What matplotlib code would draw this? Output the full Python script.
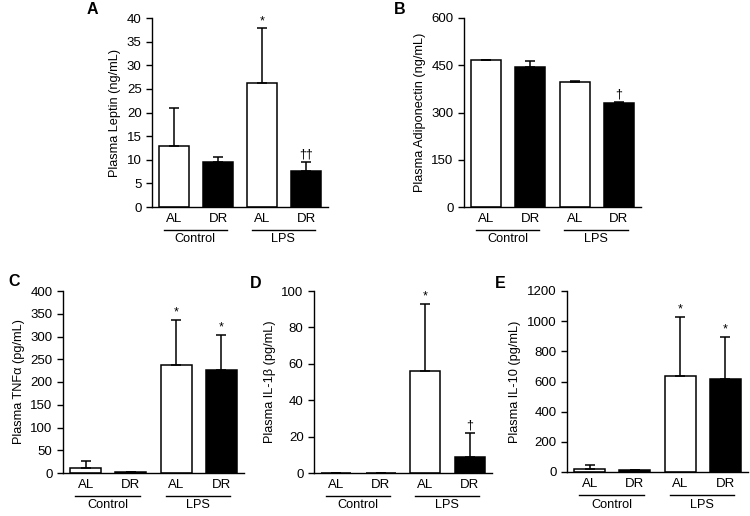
import matplotlib.pyplot as plt
from matplotlib.transforms import ScaledTranslation

plt.rcParams['font.family'] = ['Liberation Sans', 'DejaVu Sans']
plt.rcParams['font.size'] = 9

bar_labels = ['AL', 'DR', 'AL', 'DR']
groups = ['Control', 'LPS']
bar_colors = ['white', 'black', 'white', 'black']

# panel A - leptin
leptin = [12.9, 9.6, 26.3, 7.6]
leptin_err = [8.1, 0.9, 11.5, 2.0]
leptin_marks = ['', '', '*', '††']

# panel B - adiponectin
adipo = [466, 446, 397, 329]
adipo_err = [1, 16, 4, 4]
adipo_marks = ['', '', '', '†']

# panel C - TNFa
tnf = [12, 2, 237, 226]
tnf_err = [14, 0, 100, 77]
tnf_marks = ['', '', '*', '*']

# panel D - IL-1b
il1b = [0.2, 0.2, 56, 8.8]
il1b_err = [0, 0, 37, 13]
il1b_marks = ['', '', '*', '†']

# panel E - IL-10
il10 = [22, 10, 636, 614]
il10_err = [27, 6, 390, 282]
il10_marks = ['', '', '*', '*']

fig = plt.figure(figsize=(7.5, 5.16), dpi=100)
W, H = 750, 516


def add_ax(x0, x1, ytop, ybot):
    return fig.add_axes([x0 / W, 1 - ybot / H, (x1 - x0) / W, (ybot - ytop) / H])


def panel(ax, vals, errs, marks, ymax, step, ylabel, letter, lx, ly):
    x = range(len(vals))
    ax.bar(x, vals, width=0.68, color=bar_colors, edgecolor='black', linewidth=1.1,
           yerr=[[0] * len(errs), errs], capsize=3.3,
           error_kw=dict(elinewidth=1.1, capthick=1.1, ecolor='black'), zorder=2)
    for xi, v, e, m in zip(x, vals, errs, marks):
        if m:
            ax.annotate(m, (xi, v + e), xytext=(0, 1), textcoords='offset points',
                        ha='center', va='bottom', fontsize=9)
    ax.set_xlim(-0.5, 3.5)
    ax.set_ylim(0, ymax)
    ax.set_yticks(range(0, ymax + 1, step))
    ax.set_xticks(list(x))
    ax.set_xticklabels(bar_labels)
    ax.tick_params(axis='x', length=0, pad=4, labelsize=9.5)
    ax.tick_params(axis='y', length=4, width=1.0, direction='out', labelsize=9.5)
    ax.spines['top'].set_visible(False)
    ax.spines['right'].set_visible(False)
    ax.spines['left'].set_linewidth(1.0)
    ax.spines['bottom'].set_linewidth(1.0)
    ax.set_ylabel(ylabel, fontsize=9.2, labelpad=4)

    # group underline + group name
    line_tr = ax.get_xaxis_transform() + ScaledTranslation(0, -0.23, fig.dpi_scale_trans)
    text_tr = ax.get_xaxis_transform() + ScaledTranslation(0, -0.265, fig.dpi_scale_trans)
    for gi, g in enumerate(groups):
        a, b = 2 * gi - 0.23, 2 * gi + 1.2
        ax.plot([a, b], [0, 0], color='black', lw=1.0, transform=line_tr, clip_on=False)
        ax.text((a + b) / 2, 0, g, ha='center', va='top', fontsize=9.2, transform=text_tr)

    fig.text(lx / W, 1 - ly / H, letter, fontsize=11.5, fontweight='bold',
             ha='center', va='center')


axA = add_ax(152, 328, 18, 207)
panel(axA, leptin, leptin_err, leptin_marks, 40, 5, 'Plasma Leptin (ng/mL)', 'A', 92, 9)

axB = add_ax(464, 641, 18, 207)
panel(axB, adipo, adipo_err, adipo_marks, 600, 150, 'Plasma Adiponectin (ng/mL)', 'B', 400, 9)

axC = add_ax(63, 244, 291, 473)
panel(axC, tnf, tnf_err, tnf_marks, 400, 50, 'Plasma TNFα (pg/mL)', 'C', 14, 281)

axD = add_ax(314, 492, 291, 473)
panel(axD, il1b, il1b_err, il1b_marks, 100, 20, 'Plasma IL-1β (pg/mL)', 'D', 256, 283)

axE = add_ax(567, 748, 291, 472)
panel(axE, il10, il10_err, il10_marks, 1200, 200, 'Plasma IL-10 (pg/mL)', 'E', 500, 283)

plt.savefig('out.png', dpi=100)
